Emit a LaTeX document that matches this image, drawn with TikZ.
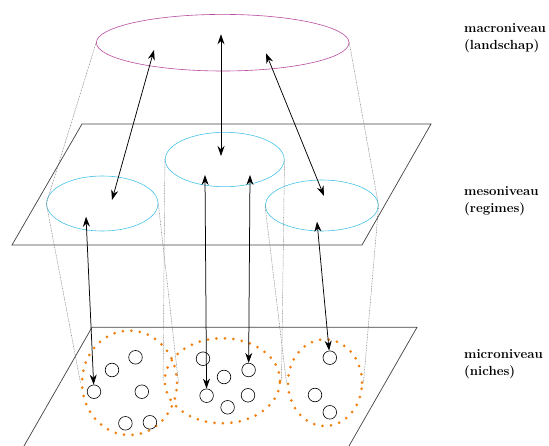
\documentclass[tikz,border=0pt]{standalone}
\usetikzlibrary{shapes.geometric,arrows.meta}
\definecolor{macrocol}{RGB}{185,75,160}
\definecolor{mesocol}{RGB}{70,195,230}
\definecolor{microcol}{RGB}{240,130,20}
\begin{document}
\begin{tikzpicture}[x=1pt,y=-1pt,
  plane/.style={draw=black!75,line width=0.7pt},
  proj/.style={draw=black!55,line width=0.45pt,dash pattern=on 0.8pt off 0.8pt},
  ell/.style={ellipse,inner sep=0pt,line width=0.6pt},
  microdots/.style={draw=microcol,line width=3pt,line cap=round,dash pattern=on 0pt off 8.5pt},
  niche/.style={circle,draw=black,line width=0.6pt,minimum size=13.6pt,inner sep=0pt},
  link/.style={line width=0.75pt,{Stealth[length=10pt,width=7pt]}-{Stealth[length=10pt,width=7pt]}},
  lab/.style={anchor=west,align=left,font=\fontsize{13.2}{17.5}\selectfont\bfseries,inner sep=0pt}]
\useasboundingbox (0,0) rectangle (549,446);

% planes
\draw[plane] (82,124) -- (431,124) -- (362,245) -- (12,245) -- cycle;
\draw[plane] (24,446) -- (92,327.3) -- (417,327.3) -- (349,446);

% levels
\node[ell,draw=macrocol,minimum width=252.6pt,minimum height=56.6pt] (macro) at (222.7,42.7) {};
\node[ell,draw=mesocol,minimum width=119pt,minimum height=54.4pt] (mesoC) at (224.7,159.5) {};
\node[ell,draw=mesocol,minimum width=111.4pt,minimum height=55pt] (mesoL) at (102.3,203.5) {};
\node[ell,draw=mesocol,minimum width=113pt,minimum height=51pt] (mesoR) at (321.8,205.5) {};
\node[ell,microdots,minimum width=95pt,minimum height=104.4pt] (microL) at (129.5,382.8) {};
\node[ell,microdots,minimum width=115.4pt,minimum height=85pt] (microC) at (222.3,380.8) {};
\node[ell,microdots,minimum width=74pt,minimum height=86.6pt] (microR) at (325,382.7) {};

% niches
\node[niche] (nL1) at (135.5,357.3) {};
\node[niche] (nL2) at (112,370) {};
\node[niche] (nL3) at (94,391.7) {};
\node[niche] (nL4) at (141.8,391.7) {};
\node[niche] (nL5) at (125.4,423.3) {};
\node[niche] (nL6) at (149.9,422.3) {};
\node[niche] (nC1) at (203,358.7) {};
\node[niche] (nC2) at (224,377) {};
\node[niche] (nC3) at (248.6,370) {};
\node[niche] (nC4) at (206.6,395.7) {};
\node[niche] (nC5) at (248,395.3) {};
\node[niche] (nC6) at (227.6,407.3) {};
\node[niche] (nR1) at (329.8,357.7) {};
\node[niche] (nR2) at (315,395) {};
\node[niche] (nR3) at (329.8,412.3) {};

% projection lines
\draw[proj] (macro.west) -- (mesoL.west) -- (microL.west);
\draw[proj] (macro.east) -- (mesoR.east) -- (microR.east);
\draw[proj] (mesoC.west) -- (microC.west);
\draw[proj] (mesoC.east) -- (microC.east);
\draw[proj] (mesoL.east) -- (microL.east);
\draw[proj] (mesoR.west) -- (microR.west);

% arrow end points
\coordinate (a1t) at (154,50);
\coordinate (a1b) at (112,200);
\coordinate (a2t) at (221,34.3);
\coordinate (a2b) at (221,156);
\coordinate (a3t) at (266,53.3);
\coordinate (a3b) at (324,196);
\coordinate (b1t) at (86,216.7);
\coordinate (b2t) at (205,175);
\coordinate (b3t) at (250,175);
\coordinate (b4t) at (317,221.7);

\draw[link] (a1t) -- (a1b);
\draw[link] (a2t) -- (a2b);
\draw[link] (a3t) -- (a3b);
\draw[link] (b1t) -- (nL3);
\draw[link] (b2t) -- (nC4);
\draw[link] (b3t) -- (nC3);
\draw[link] (b4t) -- (nR1);

% labels
\node[lab] (labmacro) at (464,38) {macroniveau\\(landschap)};
\node[lab] (labmeso) at (464,201.3) {mesoniveau\\(regimes)};
\node[lab] (labmicro) at (464,364) {microniveau\\(niches)};
\end{tikzpicture}
\end{document}
